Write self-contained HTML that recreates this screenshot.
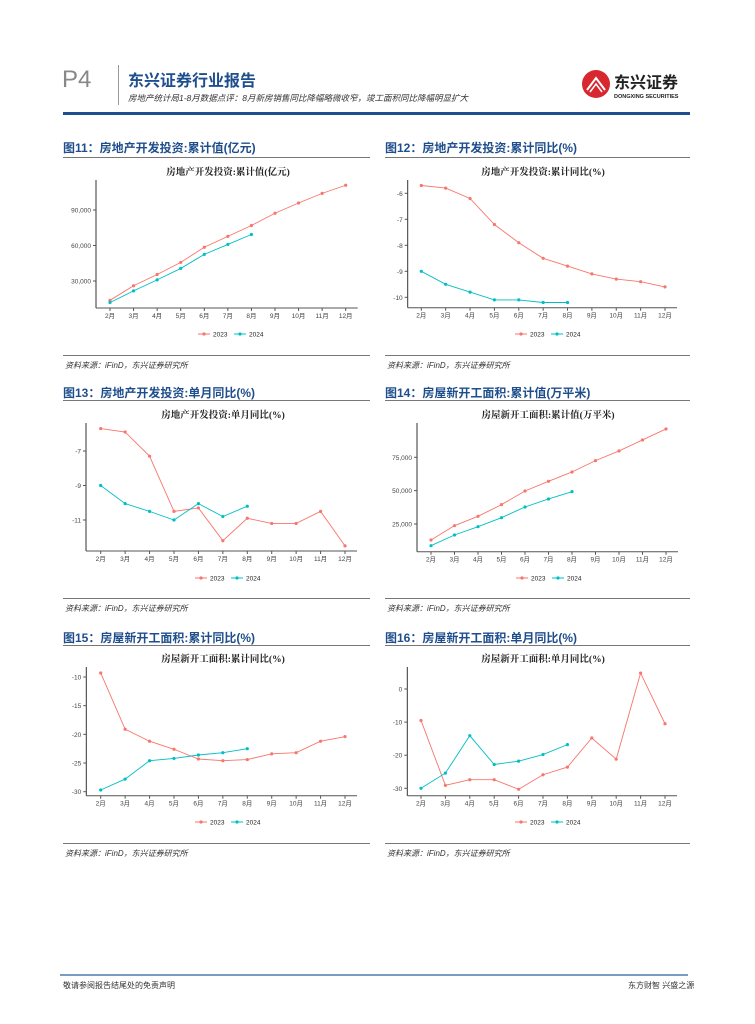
<!DOCTYPE html>
<html><head><meta charset="utf-8">
<style>
body{margin:0;background:#fff;}
#pg{position:relative;width:755px;height:1024px;overflow:hidden;font-family:"Liberation Sans","Noto Sans CJK SC",sans-serif;}
.ab{position:absolute;white-space:nowrap;}
.hd{font-size:12px;font-weight:bold;color:#1f4e8c;}
.src{font-size:8px;font-style:italic;color:#333;}
.gl{position:absolute;height:1px;background:#777;}
</style></head><body>
<div id="pg">
<div class="ab" style="left:62px;top:66px;font-size:24px;color:#888;">P4</div>
<div class="ab" style="left:118px;top:65px;width:1px;height:40px;background:#999;"></div>
<div class="ab" style="left:128px;top:67px;font-size:16px;font-weight:bold;color:#1f4e8c;">东兴证券行业报告</div>
<div class="ab" style="left:128px;top:92px;font-size:8.5px;font-style:italic;color:#333;">房地产统计局1-8月数据点评：8月新房销售同比降幅略微收窄，竣工面积同比降幅明显扩大</div>
<div class="ab" style="left:580px;top:66px;width:112px;height:36px;">
<svg width="112" height="36"><circle cx="16" cy="18" r="14" fill="#d7282f"/><path d="M7 24 L16 12 L25 24" stroke="#fff" stroke-width="2" fill="none"/><path d="M10 26 L16 18 L22 26" stroke="#fff" stroke-width="1.5" fill="none"/>
<text x="34" y="22" font-size="16" font-weight="bold" fill="#222" font-family="Liberation Sans,Noto Sans CJK SC,sans-serif">东兴证券</text>
<text x="34" y="32" font-size="5.5" font-weight="bold" fill="#222" font-family="Liberation Sans,sans-serif">DONGXING SECURITIES</text></svg></div>
<div class="ab" style="left:63px;top:112px;width:627px;height:3px;background:#1f4e8c;"></div>

<div class="ab hd" style="left:63px;top:139px;">图11：房地产开发投资:累计值(亿元)</div>
<div class="ab hd" style="left:385px;top:139px;">图12：房地产开发投资:累计同比(%)</div>
<div class="ab hd" style="left:63px;top:384px;">图13：房地产开发投资:单月同比(%)</div>
<div class="ab hd" style="left:385px;top:384px;">图14：房屋新开工面积:累计值(万平米)</div>
<div class="ab hd" style="left:63px;top:629px;">图15：房屋新开工面积:累计同比(%)</div>
<div class="ab hd" style="left:385px;top:629px;">图16：房屋新开工面积:单月同比(%)</div>
<div class="gl" style="left:63px;top:157px;width:307px;"></div>
<div class="gl" style="left:385px;top:157px;width:305px;"></div>
<div class="gl" style="left:63px;top:400px;width:307px;"></div>
<div class="gl" style="left:385px;top:400px;width:305px;"></div>
<div class="gl" style="left:63px;top:645px;width:307px;"></div>
<div class="gl" style="left:385px;top:645px;width:305px;"></div>
<div class="gl" style="left:63px;top:355px;width:307px;"></div>
<div class="gl" style="left:385px;top:355px;width:305px;"></div>
<div class="gl" style="left:63px;top:598px;width:307px;"></div>
<div class="gl" style="left:385px;top:598px;width:305px;"></div>
<div class="gl" style="left:63px;top:843px;width:307px;"></div>
<div class="gl" style="left:385px;top:843px;width:305px;"></div>
<div class="ab src" style="left:65px;top:360px;">资料来源：iFinD，东兴证券研究所</div>
<div class="ab src" style="left:387px;top:360px;">资料来源：iFinD，东兴证券研究所</div>
<div class="ab src" style="left:65px;top:603px;">资料来源：iFinD，东兴证券研究所</div>
<div class="ab src" style="left:387px;top:603px;">资料来源：iFinD，东兴证券研究所</div>
<div class="ab src" style="left:65px;top:848px;">资料来源：iFinD，东兴证券研究所</div>
<div class="ab src" style="left:387px;top:848px;">资料来源：iFinD，东兴证券研究所</div>

<div class="ab" style="left:60px;top:974px;width:628px;height:2px;background:#7a9cc0;"></div>
<div class="ab" style="left:63px;top:980px;font-size:8px;color:#333;">敬请参阅报告结尾处的免责声明</div>
<div class="ab" style="left:628px;top:980px;font-size:8px;color:#333;">东方财智 兴盛之源</div>

<svg id="charts" width="755" height="1024" style="position:absolute;left:0;top:0;"></svg>
</div>
<script>
const months=["2月","3月","4月","5月","6月","7月","8月","9月","10月","11月","12月"];
const c1_2023=[13676,25974,35514,45701,58550,67717,76900,87269,95922,104045,110913];
const c1_2024=[11842,21660,30928,40632,52529,60908,69284];
const c1_ticks=[30000,60000,90000];
const c1_tickLabels=["30,000","60,000","90,000"];
const c2_2023=[-5.7,-5.8,-6.2,-7.2,-7.9,-8.5,-8.8,-9.1,-9.3,-9.4,-9.6];
const c2_2024=[-9.0,-9.5,-9.8,-10.1,-10.1,-10.2,-10.2];
const c2_ticks=[-6,-7,-8,-9,-10];
const c2_tickLabels=["-6","-7","-8","-9","-10"];
const c3_2023=[-5.7,-5.9,-7.3,-10.5,-10.3,-12.2,-10.9,-11.2,-11.2,-10.5,-12.5];
const c3_2024=[-9.0,-10.05,-10.5,-11.0,-10.05,-10.8,-10.2];
const c3_ticks=[-7,-9,-11];
const c3_tickLabels=["-7","-9","-11"];
const c4_2023=[13000,23750,30750,39500,49750,57000,64000,72500,79750,88000,96250];
const c4_2024=[8750,16750,23000,29750,37750,43750,49250];
const c4_ticks=[25000,50000,75000];
const c4_tickLabels=["25,000","50,000","75,000"];
const c5_2023=[-9.3,-19.1,-21.2,-22.6,-24.3,-24.6,-24.4,-23.4,-23.2,-21.2,-20.4];
const c5_2024=[-29.7,-27.8,-24.6,-24.2,-23.6,-23.2,-22.5];
const c5_ticks=[-10,-15,-20,-25,-30];
const c5_tickLabels=["-10","-15","-20","-25","-30"];
const c6_2023=[-9.5,-29.1,-27.4,-27.4,-30.3,-25.9,-23.6,-14.8,-21.2,4.8,-10.5];
const c6_2024=[-30,-25.4,-14.1,-22.8,-21.8,-19.8,-16.8];
const c6_ticks=[0,-10,-20,-30];
const c6_tickLabels=["0","-10","-20","-30"];

const NS="http://www.w3.org/2000/svg";
const svg=document.getElementById('charts');
function mk(tag,attrs,parent){const e=document.createElementNS(NS,tag);for(const k in attrs)e.setAttribute(k,attrs[k]);(parent||svg).appendChild(e);return e;}
function chart(cfg,s23,s24,ticks,tl,name){
  const g=mk('g',{});
  
  
  const xs=i=>cfg.cx0+i*(cfg.cx1-cfg.cx0)/(months.length-1);
  const ys=v=>cfg.p1+(v-cfg.v1)*(cfg.p2-cfg.p1)/(cfg.v2-cfg.v1);
  const t=mk('text',{x:cfg.tx,y:cfg.ty,'text-anchor':'middle','font-size':'9.5','font-weight':'bold','font-family':'Liberation Serif,Noto Serif CJK SC,serif',fill:'#222'},g);
  t.textContent=cfg.title;
  
  
  const ya=mk('line',{x1:cfg.ax,x2:cfg.ax,y1:cfg.top,y2:cfg.bot,stroke:'#333','stroke-width':1},g);
  
  
  const xa=mk('line',{x1:cfg.ax,x2:xs(10)+12,y1:cfg.bot,y2:cfg.bot,stroke:'#555','stroke-width':1},g);
  
  
  ticks.forEach((v,i)=>{
    const y=ys(v);
    mk('line',{x1:cfg.ax-3,x2:cfg.ax,y1:y,y2:y,stroke:'#555'},g);
    const l=mk('text',{x:cfg.ax-5,y:y+2.5,'text-anchor':'end','font-size':'6.5',fill:'#444'},g);
    l.textContent=tl[i];
    
    
  });
  months.forEach((m,i)=>{
    const x=xs(i);
    mk('line',{x1:x,x2:x,y1:cfg.bot,y2:cfg.bot+3,stroke:'#555'},g);
    const l=mk('text',{x:x,y:cfg.bot+10,'text-anchor':'middle','font-size':'6.5',fill:'#444'},g);
    l.textContent=m;
    
    
  });
  [[s23,'#F8766D','series-2023'],[s24,'#00BFC4','series-2024']].forEach(([d,c,n])=>{
    const p=mk('polyline',{points:d.map((v,i)=>xs(i)+','+ys(v)).join(' '),fill:'none',stroke:c,'stroke-width':0.9},g);
    
    
    d.forEach((v,i)=>{
      const pt=mk('circle',{cx:xs(i),cy:ys(v),r:1.6,fill:c},g);
      
      
    });
  });
  const lx=cfg.lx-32;
  [['2023','#F8766D',0],['2024','#00BFC4',36]].forEach(([n,c,o])=>{
    const lg=mk('g',{},g);
    
    
    mk('line',{x1:lx+o,x2:lx+o+12,y1:cfg.ly,y2:cfg.ly,stroke:c,'stroke-width':1},lg);
    mk('circle',{cx:lx+o+6,cy:cfg.ly,r:1.6,fill:c},lg);
    const tx=mk('text',{x:lx+o+15,y:cfg.ly+2.5,'font-size':'6.5',fill:'#222'},lg);
    tx.textContent=n;
  });
}
chart({cx0:110,cx1:345.7,ax:96,top:180,bot:308,v1:30000,p1:281,v2:90000,p2:210,tx:228,ty:175,lx:230,ly:334,title:'房地产开发投资:累计值(亿元)'},c1_2023,c1_2024,c1_ticks,c1_tickLabels,'chart-fig11');
chart({cx0:421.3,cx1:665,ax:407.7,top:180,bot:307.7,v1:-6,p1:193.3,v2:-10,p2:297.3,tx:543,ty:175,lx:547,ly:334,title:'房地产开发投资:累计同比(%)'},c2_2023,c2_2024,c2_ticks,c2_tickLabels,'chart-fig12');
chart({cx0:100.7,cx1:345,ax:86,top:423,bot:551,v1:-7,p1:451,v2:-11,p2:520,tx:223,ty:418,lx:227,ly:578,title:'房地产开发投资:单月同比(%)'},c3_2023,c3_2024,c3_ticks,c3_tickLabels,'chart-fig13');
chart({cx0:431,cx1:666,ax:417,top:423,bot:551.7,v1:75000,p1:457.3,v2:25000,p2:524,tx:548,ty:418,lx:548,ly:578,title:'房屋新开工面积:累计值(万平米)'},c4_2023,c4_2024,c4_ticks,c4_tickLabels,'chart-fig14');
chart({cx0:100.7,cx1:345,ax:86.3,top:667,bot:795.7,v1:-10,p1:677,v2:-30,p2:791.7,tx:223,ty:662,lx:227,ly:822,title:'房屋新开工面积:累计同比(%)'},c5_2023,c5_2024,c5_ticks,c5_tickLabels,'chart-fig15');
chart({cx0:421,cx1:665,ax:407.3,top:667,bot:795.7,v1:0,p1:689,v2:-30,p2:788.3,tx:543,ty:662,lx:547,ly:822,title:'房屋新开工面积:单月同比(%)'},c6_2023,c6_2024,c6_ticks,c6_tickLabels,'chart-fig16');
</script>
</body></html>
